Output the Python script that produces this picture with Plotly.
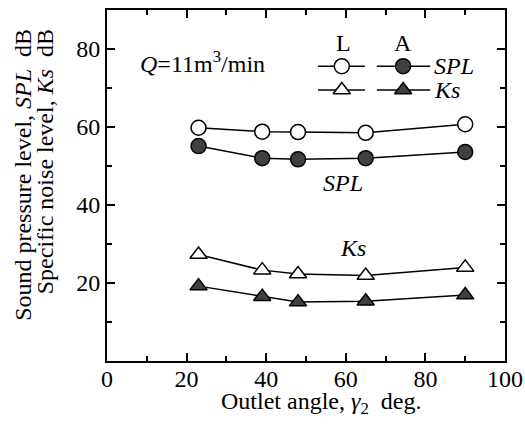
import plotly.graph_objects as go

angle = [23, 39, 48, 65, 90]
spl_L = [59.8, 58.8, 58.7, 58.5, 60.7]
spl_A = [55.1, 52.0, 51.7, 52.0, 53.6]
ks_L = [27.3, 23.3, 22.3, 21.9, 24.0]
ks_A = [19.2, 16.5, 15.1, 15.3, 16.9]

x_ticks = [0, 20, 40, 60, 80, 100]
y_ticks = [20, 40, 60, 80]

FONT = "Liberation Serif, Times New Roman, serif"
FS = 24
DARK = "#404040"
MS = 15
NB = "\u00a0"

fig = go.Figure()

def add_series(y, symbol, fill):
    fig.add_trace(go.Scatter(
        x=angle, y=y, mode="lines+markers",
        line=dict(color="black", width=1.5),
        marker=dict(symbol=symbol, size=MS, color=fill,
                    line=dict(color="black", width=1.5)),
        showlegend=False, cliponaxis=False))

add_series(spl_L, "circle", "white")
add_series(spl_A, "circle", DARK)
add_series(ks_L, "triangle-up", "white")
add_series(ks_A, "triangle-up", DARK)

# custom legend on an overlay axis (paper-like 0..1)
leg_rows = [0.840, 0.772]
leg_syms = ["circle", "triangle-up"]
for yy, sym in zip(leg_rows, leg_syms):
    for (x0, xm, x1), fill in [((0.530, 0.590, 0.648), "white"),
                               ((0.678, 0.744, 0.812), DARK)]:
        fig.add_trace(go.Scatter(
            x=[x0, xm, x1], y=[yy, yy, yy], xaxis="x2", yaxis="y2",
            mode="lines", line=dict(color="black", width=1.5),
            showlegend=False, hoverinfo="skip"))
        fig.add_trace(go.Scatter(
            x=[xm], y=[yy], xaxis="x2", yaxis="y2", mode="markers",
            marker=dict(symbol=sym, size=MS, color=fill,
                        line=dict(color="black", width=1.5)),
            showlegend=False, hoverinfo="skip"))

def txt(**kw):
    d = dict(showarrow=False, font=dict(size=FS, family=FONT, color="black"))
    d.update(kw)
    return d

ann = [
    txt(x=0.593, y=0.906, xref="x2", yref="y2", text="L"),
    txt(x=0.744, y=0.906, xref="x2", yref="y2", text="A"),
    txt(x=0.816, y=0.840, xref="x2", yref="y2", text="<i>SPL</i>", xanchor="left"),
    txt(x=0.816, y=0.772, xref="x2", yref="y2", text="<i>Ks</i>", xanchor="left"),
    txt(x=7.8, y=76.7, xref="x", yref="y", text="<i>Q</i>=11m<sup>3</sup>/min", xanchor="left"),
    txt(x=59.3, y=45.6, xref="x", yref="y", text="<i>SPL</i>"),
    txt(x=61.8, y=29.0, xref="x", yref="y", text="<i>Ks</i>"),
    txt(x=0.538, y=-0.12, xref="paper", yref="paper", yanchor="middle",
        text="Outlet angle, <i>γ</i><sub>2</sub>" + NB + NB + "deg."),
    txt(x=-0.211, y=0.952, xref="paper", yref="paper", textangle=-90,
        xanchor="center", yanchor="top",
        text="Sound pressure level, <i>SPL</i>" + NB + NB + "dB"),
    txt(x=-0.156, y=0.952, xref="paper", yref="paper", textangle=-90,
        xanchor="center", yanchor="top",
        text="Specific noise level, <i>Ks</i>" + NB + NB + "dB"),
]

axis_common = dict(showgrid=False, zeroline=False, showline=True, linecolor="black",
                   linewidth=2, mirror="ticks", ticks="inside", ticklen=8,
                   tickwidth=1.5, tickcolor="black", automargin=False,
                   tickfont=dict(size=FS, family=FONT, color="black"))

fig.update_layout(
    width=525, height=433,
    margin=dict(l=107, r=20, t=10, b=72),
    plot_bgcolor="white", paper_bgcolor="white",
    font=dict(family=FONT, color="black"),
    xaxis=dict(range=[0, 100], tickvals=x_ticks, ticklabelstandoff=-5,
               minor=dict(tickvals=[10, 30, 50, 70, 90], ticks="inside", ticklen=5,
                          tickwidth=1.5, tickcolor="black"),
               **axis_common),
    yaxis=dict(range=[0, 90], tickvals=y_ticks,
               minor=dict(tickvals=[10, 30, 50, 70], ticks="inside", ticklen=5,
                          tickwidth=1.5, tickcolor="black"),
               **axis_common),
    xaxis2=dict(range=[0, 1], overlaying="x", visible=False, fixedrange=True),
    yaxis2=dict(range=[0, 1], overlaying="y", visible=False, fixedrange=True),
    annotations=ann,
)

fig.write_html("out.html", config={"displayModeBar": False},
               post_script="document.body.style.margin='0';document.body.style.overflow='hidden';")
